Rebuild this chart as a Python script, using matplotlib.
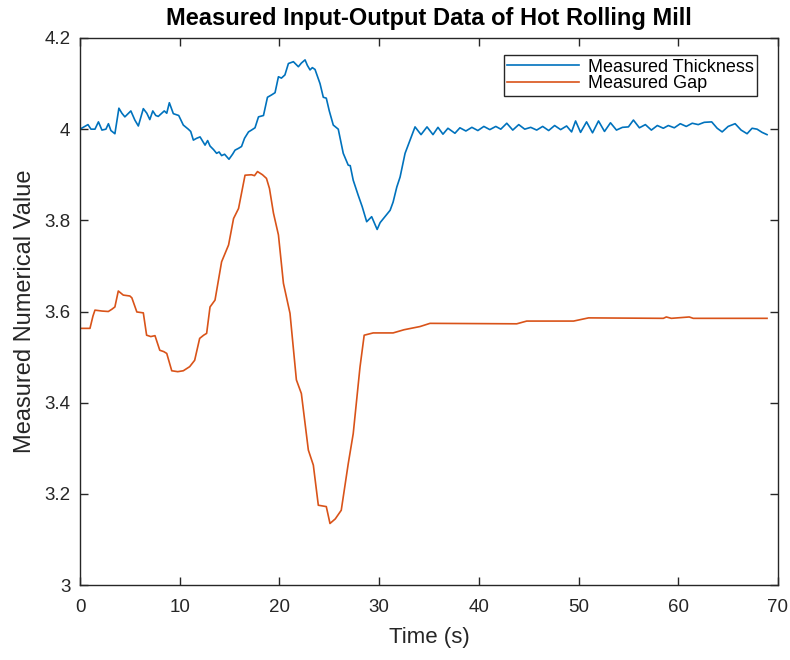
import matplotlib
matplotlib.use("Agg")
import matplotlib.pyplot as plt

plt.rcParams['font.family'] = ['Liberation Sans', 'DejaVu Sans']

thick_t = [0.0, 0.4, 0.8, 1.1, 1.5, 1.85, 2.2, 2.6, 2.85, 3.1, 3.5, 3.9, 4.2, 4.5, 5.1, 5.5, 5.85,
           6.35, 6.7, 7.0, 7.3, 7.6, 7.85, 8.2, 8.45, 8.7, 8.96, 9.36, 9.9, 10.36, 10.86, 11.1,
           11.37, 11.7, 12.04, 12.54, 12.8, 13.04, 13.4, 13.7, 13.95, 14.2, 14.5, 14.94, 15.3,
           15.55, 15.9, 16.2, 16.5, 16.9, 17.2, 17.55, 17.9, 18.4, 18.8, 19.2, 19.56, 19.9, 20.2,
           20.55, 20.9, 21.4, 21.9, 22.2, 22.57, 22.8, 23.07, 23.3, 23.57, 24.07, 24.4, 24.7, 25.0,
           25.4, 25.9, 26.4, 26.9, 27.1, 27.4, 27.9, 28.3, 28.75, 29.25, 29.5, 29.8, 30.1, 30.58,
           31.1, 31.4, 31.77, 32.1, 32.6, 33.1, 33.6, 34.2, 34.8, 35.4, 35.9, 36.4, 36.9, 37.6,
           38.1, 38.7, 39.3, 39.9, 40.5, 41.1, 41.7, 42.2, 42.8, 43.4, 44.0, 44.6, 45.2, 45.8,
           46.4, 47.0, 47.6, 48.2, 48.8, 49.3, 49.7, 50.2, 50.8, 51.4, 52.0, 52.6, 53.2, 53.8,
           54.4, 55.0, 55.5, 56.1, 56.7, 57.3, 57.9, 58.5, 59.0, 59.6, 60.2, 60.8, 61.4, 62.0,
           62.6, 63.35, 63.9, 64.4, 65.0, 65.7, 66.3, 66.9, 67.4, 67.9, 68.4, 68.9]
thick_v = [4.000, 4.005, 4.010, 4.000, 4.000, 4.016, 3.998, 4.000, 4.012, 3.997, 3.990, 4.046,
           4.035, 4.027, 4.040, 4.020, 4.007, 4.045, 4.035, 4.021, 4.040, 4.030, 4.028, 4.035,
           4.040, 4.035, 4.058, 4.034, 4.030, 4.009, 4.000, 3.995, 3.976, 3.980, 3.983, 3.965,
           3.975, 3.963, 3.955, 3.947, 3.950, 3.942, 3.945, 3.934, 3.945, 3.954, 3.958, 3.962,
           3.980, 3.994, 3.998, 4.003, 4.027, 4.030, 4.070, 4.075, 4.080, 4.115, 4.112, 4.119,
           4.144, 4.148, 4.137, 4.145, 4.152, 4.140, 4.130, 4.135, 4.131, 4.100, 4.070, 4.068,
           4.040, 4.009, 4.000, 3.947, 3.921, 3.920, 3.888, 3.855, 3.830, 3.797, 3.808, 3.795,
           3.780, 3.795, 3.808, 3.822, 3.840, 3.873, 3.895, 3.947, 3.976, 4.005, 3.988, 4.005,
           3.988, 4.004, 3.989, 4.002, 3.991, 4.003, 3.996, 4.004, 3.997, 4.006, 3.999, 4.006,
           4.000, 4.013, 3.998, 4.010, 4.000, 4.004, 3.998, 4.006, 3.997, 4.008, 3.999, 4.007,
           3.994, 4.018, 3.993, 4.016, 3.992, 4.018, 3.995, 4.014, 3.998, 4.004, 4.005, 4.020,
           4.003, 4.010, 3.998, 4.008, 4.002, 4.008, 4.003, 4.012, 4.006, 4.013, 4.010, 4.015,
           4.016, 4.002, 3.994, 4.006, 4.012, 3.998, 3.990, 4.002, 4.000, 3.993, 3.988]

gap_t = [0.0, 1.0, 1.3, 1.5, 2.2, 2.84, 3.2, 3.5, 3.84, 4.34, 5.0, 5.2, 5.7, 6.35, 6.68, 7.1,
         7.52, 8.0, 8.4, 8.7, 9.2, 9.8, 10.36, 11.0, 11.5, 12.0, 12.4, 12.7, 13.04, 13.54, 14.2,
         14.9, 15.4, 15.9, 16.55, 17.2, 17.5, 17.8, 18.3, 18.7, 19.0, 19.4, 19.9, 20.4, 21.06,
         21.7, 22.2, 22.9, 23.4, 23.9, 24.7, 25.07, 25.6, 26.2, 26.9, 27.4, 28.08, 28.5, 29.4,
         31.4, 32.5, 34.1, 35.1, 43.8, 44.8, 49.5, 51.0, 58.5, 58.8, 59.3, 61.1, 61.5, 68.9]
gap_v = [3.563, 3.563, 3.590, 3.603, 3.601, 3.600, 3.605, 3.610, 3.645, 3.636, 3.634, 3.630,
         3.599, 3.597, 3.548, 3.545, 3.547, 3.515, 3.512, 3.508, 3.470, 3.468, 3.470, 3.479,
         3.493, 3.541, 3.548, 3.552, 3.610, 3.625, 3.709, 3.746, 3.804, 3.826, 3.899, 3.900,
         3.898, 3.907, 3.900, 3.892, 3.870, 3.816, 3.768, 3.662, 3.596, 3.450, 3.420, 3.296,
         3.263, 3.175, 3.172, 3.135, 3.145, 3.164, 3.266, 3.332, 3.478, 3.548, 3.553, 3.553,
         3.560, 3.567, 3.574, 3.573, 3.579, 3.579, 3.586, 3.585, 3.588, 3.585, 3.588, 3.585,
         3.585]

x_ticks = [0, 10, 20, 30, 40, 50, 60, 70]
y_ticks = [3.0, 3.2, 3.4, 3.6, 3.8, 4.0, 4.2]
y_tick_labels = ['3', '3.2', '3.4', '3.6', '3.8', '4', '4.2']

fig = plt.figure(figsize=(7.9, 6.6), dpi=100)
ax = fig.add_axes([80/790, 1-585/660, (778-80)/790, (585-38)/660])

ax.plot(thick_t, thick_v, color='#0072BD', lw=1.2, label='Measured Thickness')
ax.plot(gap_t, gap_v, color='#D95319', lw=1.2, label='Measured Gap')

ax.set_xlim(0, 70)
ax.set_ylim(3.0, 4.2)
ax.set_xticks(x_ticks)
ax.set_yticks(y_ticks)
ax.set_yticklabels(y_tick_labels)
ax.tick_params(direction='in', length=6, width=1, colors='#262626', labelsize=13.5,
               top=True, right=True)
ax.tick_params(axis='x', pad=10)
ax.tick_params(axis='y', pad=7)
for s in ax.spines.values():
    s.set_color('#262626')
    s.set_linewidth(1)

ax.set_xlabel('Time (s)', fontsize=16, color='#262626', labelpad=8)
ax.set_ylabel('Measured Numerical Value', fontsize=17, color='#262626', labelpad=6)
ax.set_title('Measured Input-Output Data of Hot Rolling Mill', fontsize=17,
             fontweight='bold', pad=9)

leg = ax.legend(loc='upper right', bbox_to_anchor=((757-80)/698, (585-55)/547),
                fontsize=13, handlelength=4.0, frameon=True,
                fancybox=False, edgecolor='#262626', framealpha=1,
                borderaxespad=0.0, labelspacing=-0.02, handletextpad=0.45, borderpad=0.2)
leg.get_frame().set_linewidth(1)

fig.savefig('out.png', dpi=100)
